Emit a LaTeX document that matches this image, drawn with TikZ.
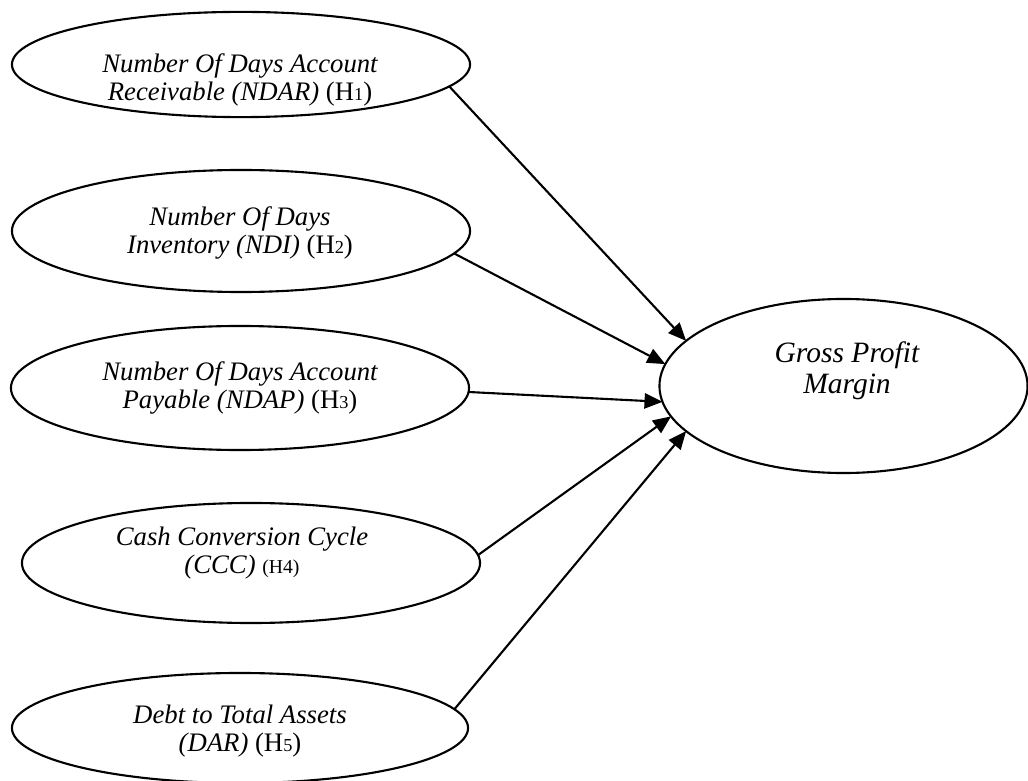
\documentclass[tikz,border=0pt]{standalone}
\usepackage{fontspec}
\setmainfont{Liberation Serif}
\usetikzlibrary{arrows.meta,shapes.geometric}
\newcommand{\hypo}[1]{{\upshape(H{\fontsize{13}{13}\selectfont #1})}}

\begin{document}
\begin{tikzpicture}[x=0.025cm,y=-0.025cm,
    oval/.style={draw,ellipse,line width=1.5pt,inner sep=0pt,outer sep=0pt},
    vartxt/.style={align=center,inner sep=0pt,font=\fontsize{19}{19.8}\selectfont\itshape},
    link/.style={-{Triangle[length=0.45cm,width=0.38cm]},line width=1.5pt}]
  \useasboundingbox (0,0) rectangle (1028,781);

  % independent variables
  \node[oval,minimum width=11.45cm,minimum height=2.63cm] (ndar) at (241,64.5) {};
  \node[vartxt] (ndar-t) at (240,80) {Number Of Days Account\\Receivable (NDAR) \hypo{1}};

  \node[oval,minimum width=11.45cm,minimum height=3.05cm] (ndi) at (241,231) {};
  \node[vartxt] (ndi-t) at (240,233) {Number Of Days\\Inventory (NDI) \hypo{2}};

  \node[oval,minimum width=11.45cm,minimum height=3.1cm] (ndap) at (240,388) {};
  \node[vartxt] (ndap-t) at (240,388) {Number Of Days Account\\Payable (NDAP) \hypo{3}};

  \node[oval,minimum width=11.45cm,minimum height=3cm] (ccc) at (251,563) {};
  \node[vartxt] (ccc-t) at (242,553) {Cash Conversion Cycle\\(CCC) {\upshape\fontsize{14}{14}\selectfont(H4)}};

  \node[oval,minimum width=11.4cm,minimum height=2.75cm] (dar) at (240,728) {};
  \node[vartxt] (dar-t) at (240,731) {Debt to Total Assets\\(DAR) \hypo{5}};

  % dependent variable
  \node[oval,minimum width=9.2cm,minimum height=4.35cm] (gpm) at (843.5,386) {};
  \node[vartxt,font=\fontsize{21}{22}\selectfont\itshape] (gpm-t) at (847,371) {Gross Profit\\Margin};

  \draw[link] (ndar.-6) -- (gpm.164.7);
  \draw[link] (ndi.-6) -- (gpm.173.9);
  \draw[link] (ndap.-1) -- (gpm.-175.1);
  \draw[link] (ccc.2) -- (gpm.-170.6);
  \draw[link] (dar.5.3) -- (gpm.-164.7);
\end{tikzpicture}
\end{document}
